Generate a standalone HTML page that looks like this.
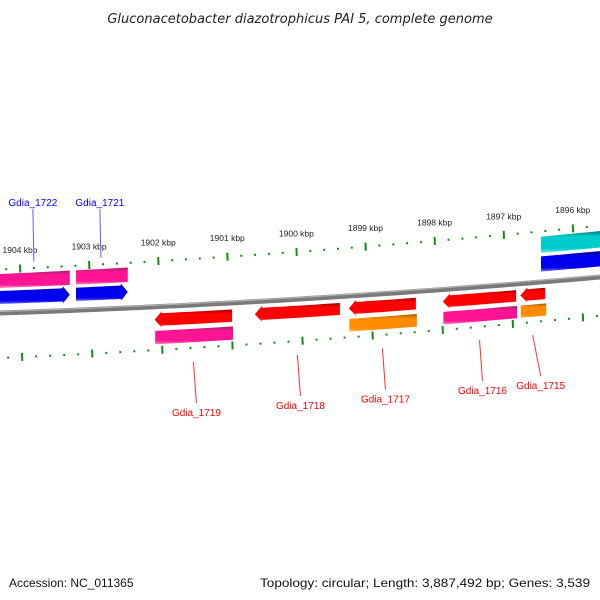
<!DOCTYPE html>
<html><head><meta charset="utf-8"><style>
html,body{margin:0;padding:0;background:#fff;}
svg{display:block;font-family:"Liberation Sans","DejaVu Sans",sans-serif;}
</style></head><body>
<svg id="map" width="600" height="600" viewBox="0 0 600 600" xmlns="http://www.w3.org/2000/svg">
<defs>
<linearGradient id="gPink" x1="0" y1="0" x2="0" y2="1"><stop offset="0" stop-color="#a0206e"/><stop offset="0.25" stop-color="#ff1493"/><stop offset="0.8" stop-color="#ff1493"/><stop offset="1" stop-color="#ff88c4"/></linearGradient>
<linearGradient id="gBlue" x1="0" y1="0" x2="0" y2="1"><stop offset="0" stop-color="#00008a"/><stop offset="0.25" stop-color="#0000ee"/><stop offset="0.8" stop-color="#0000ee"/><stop offset="1" stop-color="#7070ff"/></linearGradient>
<linearGradient id="gRed" x1="0" y1="0" x2="0" y2="1"><stop offset="0" stop-color="#a00000"/><stop offset="0.25" stop-color="#ff0000"/><stop offset="0.8" stop-color="#ff0000"/><stop offset="1" stop-color="#ff8080"/></linearGradient>
<linearGradient id="gOrange" x1="0" y1="0" x2="0" y2="1"><stop offset="0" stop-color="#a05a00"/><stop offset="0.25" stop-color="#ff8c00"/><stop offset="0.8" stop-color="#ff8c00"/><stop offset="1" stop-color="#ffc070"/></linearGradient>
<linearGradient id="gCyan" x1="0" y1="0" x2="0" y2="1"><stop offset="0" stop-color="#008080"/><stop offset="0.25" stop-color="#00cccc"/><stop offset="0.8" stop-color="#00cccc"/><stop offset="1" stop-color="#80eaea"/></linearGradient>
</defs>
<text x="300" y="23" text-anchor="middle" font-size="13" font-style="italic" fill="#222" font-family="DejaVu Sans, sans-serif">Gluconacetobacter diazotrophicus PAI 5, complete genome</text>
<g id="ticks"></g>
<g id="backbone"></g>
<g id="genes"></g>
<g id="labels"></g>
<text x="9" y="587" font-size="12" fill="#111">Accession: NC_011365</text>
<text x="260" y="587" font-size="12" fill="#111" textLength="330" lengthAdjust="spacingAndGlyphs">Topology: circular; Length: 3,887,492 bp; Genes: 3,539</text>
</svg>
<script>
// data
const tickKbp = [1904,1903,1902,1901,1900,1899,1898,1897,1896];
const geneNames = ["Gdia_1722","Gdia_1721","Gdia_1720","Gdia_1719","Gdia_1718","Gdia_1717","Gdia_1716","Gdia_1715"];
const geneStart = [1904.29,1903.19,1896.46,1902.05,1900.60,1899.24,1897.88,1896.76];
const geneEnd   = [1903.28,1902.44,1895.55,1900.93,1899.37,1898.27,1896.82,1896.40];
const geneStrand = [1,1,1,-1,-1,-1,-1,-1];
const geneCds = ["gPink","gPink","gCyan","gPink","","gOrange","gPink","gOrange"];
const labelled = [true,true,false,true,true,true,true,true];

const NS="http://www.w3.org/2000/svg";
function xOf(k){return 20+(1904-k)*69.1;}
function B(x){return 313-0.0333*x-4.44e-5*x*x;}
function Y(x,o){return B(x)+o*(1+(o<0?0.18:-0.14)*x/600);}
function mk(tag,attrs,parent){const e=document.createElementNS(NS,tag);for(const k in attrs)e.setAttribute(k,attrs[k]);parent.appendChild(e);return e;}

const tg=document.getElementById('ticks');
const TOP=-43.5;
for(let i=0;i<tickKbp.length;i++){
  for(let j=0;j<5;j++){
    const k=tickKbp[i]-j*0.2; const x=xOf(k); if(x>600)continue;
    const y=Y(x,TOP);
    const t=mk('line',{x1:x,y1:y-(j?1:4),x2:x+0.3,y2:y+(j?1:4),stroke:'#138c13','stroke-width':2},tg);
    
    
  }
  const x=xOf(tickKbp[i]);
  const lb=mk('text',{x:x,y:Y(x,TOP)-15.5,'text-anchor':'middle','font-size':'8.5',fill:'#222'},tg);
  lb.textContent=tickKbp[i]+' kbp';
  
  
}
{const x=xOf(1904.2);const y=Y(x,TOP);const t=mk('line',{x1:x,y1:y-1,x2:x,y2:y+1,stroke:'#138c13','stroke-width':2},tg);}
for(let i=-1;i<9;i++){
  for(let j=0;j<5;j++){
    const x=22+70.1*i+j*14.02; if(x<0||x>600)continue;
    const y=Y(x,45);
    const t=mk('line',{x1:x,y1:y-(j?1:4),x2:x+0.3,y2:y+(j?1:4),stroke:'#138c13','stroke-width':2},tg);
    
    
  }
}
const bg=document.getElementById('backbone');
function path(o){let d='';for(let x=0;x<=600;x+=10)d+=(x?'L':'M')+x+' '+Y(x,o).toFixed(2);return d;}
let p=mk('path',{d:path(0),stroke:'#7a7a7a','stroke-width':5,fill:'none'},bg);


p=mk('path',{d:path(-1.5),stroke:'#b0b0b0','stroke-width':1.2,fill:'none'},bg);



const gg=document.getElementById('genes');
function gene(x1,x2,o1,o2,dir,fill,name){
  const head=7,ext=2;
  let top=[],bot=[];
  let a=x1,b=x2;
  if(dir===1)b=x2-head; if(dir===-1)a=x1+head;
  for(let x=a;x<=b;x+=Math.max(1,(b-a)/12)){top.push([x,Y(x,o1)]);bot.push([x,Y(x,o2)]);}
  top.push([b,Y(b,o1)]);bot.push([b,Y(b,o2)]);
  let pts=[];
  if(dir===-1){pts.push([x1,Y(x1,(o1+o2)/2)]);pts.push([a,Y(a,o1-ext)]);}
  pts=pts.concat(top);
  if(dir===1){pts.push([b,Y(b,o1-ext)]);pts.push([x2,Y(x2,(o1+o2)/2)]);pts.push([b,Y(b,o2+ext)]);}
  pts=pts.concat(bot.reverse());
  if(dir===-1){pts.push([a,Y(a,o2+ext)]);}
  const e=mk('polygon',{points:pts.map(q=>q[0].toFixed(1)+','+q[1].toFixed(1)).join(' '),fill:'url(#'+fill+')'},gg);
  
  
}
const lg=document.getElementById('labels');
for(let i=0;i<geneNames.length;i++){
  const x1=Math.max(0,xOf(geneStart[i])), x2=Math.min(600,xOf(geneEnd[i]));
  const s=geneStrand[i];
  if(s===1){
    gene(x1,x2,-39,-25,0,geneCds[i],geneNames[i].toLowerCase()+'-cds');
    gene(x1,x2,-22,-9,x2<600?1:0,'gBlue',geneNames[i].toLowerCase()+'-gene');
  } else {
    gene(x1,x2,7,20,-1,'gRed',geneNames[i].toLowerCase()+'-gene');
    if(geneCds[i]) gene(x1+0.5,x2+1,25,39,0,geneCds[i],geneNames[i].toLowerCase()+'-cds');
  }
  if(!labelled[i])continue;
  const xm=(x1+x2)/2;
  const col=s===1?'#0000ff':'#ff0000';
  let ln,tx;
  if(s===1){
    const lx=xm-2;
    ln=mk('line',{x1:lx,y1:209,x2:lx+1,y2:Y(lx,-50),stroke:'#6060ff','stroke-width':1},lg);
    tx=mk('text',{x:lx,y:206,'text-anchor':'middle','font-size':'10',fill:col},lg);
  } else {
    const y0=Y(xm,60), y1=y0+41;
    const shift=i===7?8:3;
    ln=mk('line',{x1:xm,y1:y0,x2:xm+shift,y2:y1,stroke:'#ff3030','stroke-width':1},lg);
    tx=mk('text',{x:xm+shift,y:y1+13,'text-anchor':'middle','font-size':'10',fill:col},lg);
  }
  tx.textContent=geneNames[i];
  
  
  
  
}
</script>
</body></html>
